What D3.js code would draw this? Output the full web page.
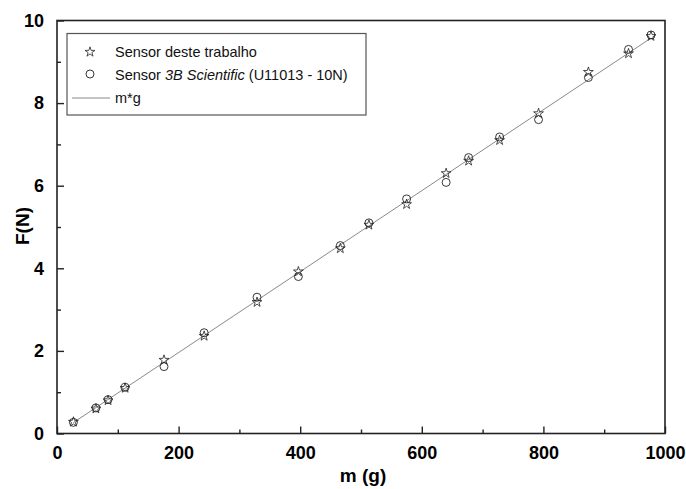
<!DOCTYPE html>
<html><head><meta charset="utf-8">
<script src="https://cdn.jsdelivr.net/npm/d3@7"></script>
<style>body{margin:0;background:#fff}svg{display:block}text{font-family:"Liberation Sans",Arial,sans-serif}</style>
</head><body><svg id="c" width="686" height="489"></svg>
<script>
const massG = [27, 64, 84, 112, 176, 242, 329, 397, 466, 513, 575, 640, 677, 728, 792, 874, 940, 977];
const sensorThis = [0.28, 0.60, 0.80, 1.10, 1.78, 2.36, 3.18, 3.92, 4.48, 5.05, 5.55, 6.30, 6.60, 7.10, 7.75, 8.75, 9.20, 9.62];
const sensor3B = [0.27, 0.62, 0.82, 1.12, 1.62, 2.44, 3.30, 3.80, 4.55, 5.10, 5.68, 6.08, 6.68, 7.18, 7.60, 8.62, 9.30, 9.65];
const lineMass = [27, 977];
const g = 9.8;
const xTicks = [0, 200, 400, 600, 800, 1000];
const xMinor = [100, 300, 500, 700, 900];
const yTicks = [0, 2, 4, 6, 8, 10];
const yMinor = [1, 3, 5, 7, 9];
const legendLabels = ["Sensor deste trabalho", "Sensor 3B Scientific (U11013 - 10N)", "m*g"];

const svg = d3.select("#c");
const L = 57, R = 665, T = 20.5, B = 433.5;
const x = d3.scaleLinear().domain([0, 1000]).range([L, R]);
const y = d3.scaleLinear().domain([0, 10]).range([B, T]);

svg.append("path")
  .datum(lineMass)
  .attr("d", d3.line().x(d => x(d)).y(d => y(d * g / 1000)))
  .attr("stroke", "#8a8a8a").attr("stroke-width", 1).attr("fill", "none");

svg.append("g").selectAll("circle").data(massG).join("circle")
  .attr("cx", d => x(d)).attr("cy", (d, i) => y(sensor3B[i])).attr("r", 4)
  .attr("fill", "none").attr("stroke", "#222").attr("stroke-width", 0.9);

const star = d3.symbol().type(d3.symbolStar).size(30);
svg.append("g").selectAll("path").data(massG).join("path")
  .attr("transform", (d, i) => `translate(${x(d)},${y(sensorThis[i])})`)
  .attr("d", star).attr("fill", "none").attr("stroke", "#222").attr("stroke-width", 0.8);

svg.append("rect").attr("x", L).attr("y", T).attr("width", R - L).attr("height", B - T)
  .attr("fill", "none").attr("stroke", "#222").attr("stroke-width", 1.6);

const xAxis = d3.axisBottom(x).tickValues(xTicks).tickSize(-7).tickPadding(13).tickFormat(d3.format("d"));
const gx = svg.append("g").attr("transform", `translate(0,${B})`).call(xAxis);
gx.select(".domain").remove();
gx.selectAll("line").attr("stroke", "#222").attr("stroke-width", 1.4);
gx.selectAll("text").attr("font-size", 18).attr("font-weight", "bold").attr("fill", "#000")
  .attr("font-family", "'Liberation Sans',Arial,sans-serif");
const gxm = svg.append("g").attr("transform", `translate(0,${B})`)
  .call(d3.axisBottom(x).tickValues(xMinor).tickSize(-4).tickFormat(""));
gxm.select(".domain").remove();
gxm.selectAll("line").attr("stroke", "#222").attr("stroke-width", 1.4);

const yAxis = d3.axisLeft(y).tickValues(yTicks).tickSize(-7).tickPadding(13).tickFormat(d3.format("d"));
const gy = svg.append("g").attr("transform", `translate(${L},0)`).call(yAxis);
gy.select(".domain").remove();
gy.selectAll("line").attr("stroke", "#222").attr("stroke-width", 1.4);
gy.selectAll("text").attr("font-size", 18).attr("font-weight", "bold").attr("fill", "#000")
  .attr("font-family", "'Liberation Sans',Arial,sans-serif");
const gym = svg.append("g").attr("transform", `translate(${L},0)`)
  .call(d3.axisLeft(y).tickValues(yMinor).tickSize(-4).tickFormat(""));
gym.select(".domain").remove();
gym.selectAll("line").attr("stroke", "#222").attr("stroke-width", 1.4);

svg.append("text").attr("x", 363).attr("y", 482).attr("text-anchor", "middle")
  .attr("font-size", 19).attr("font-weight", "bold").attr("fill", "#000").text("m (g)");
svg.append("text").attr("transform", "translate(29,226) rotate(-90)").attr("text-anchor", "middle")
  .attr("font-size", 19).attr("font-weight", "bold").attr("fill", "#000").text("F(N)");

const lg = svg.append("g");
lg.append("rect").attr("x", 67).attr("y", 33.5).attr("width", 299).attr("height", 81.5)
  .attr("fill", "#fff").attr("stroke", "#555").attr("stroke-width", 1.2);
lg.append("path").attr("transform", "translate(90,52)").attr("d", star)
  .attr("fill", "none").attr("stroke", "#222").attr("stroke-width", 0.8);
lg.append("circle").attr("cx", 90).attr("cy", 74).attr("r", 4)
  .attr("fill", "none").attr("stroke", "#222").attr("stroke-width", 0.9);
lg.append("line").attr("x1", 72).attr("x2", 110).attr("y1", 98).attr("y2", 98)
  .attr("stroke", "#8a8a8a").attr("stroke-width", 1);
const fs = 14.5;
lg.append("text").attr("x", 115).attr("y", 57).attr("font-size", fs).attr("fill", "#111").text(legendLabels[0]);
const t2 = lg.append("text").attr("x", 115).attr("y", 79.5).attr("font-size", fs).attr("fill", "#111");
t2.append("tspan").text("Sensor ");
t2.append("tspan").attr("font-style", "italic").text("3B Scientific");
t2.append("tspan").text(" (U11013 - 10N)");
lg.append("text").attr("x", 115).attr("y", 103).attr("font-size", fs).attr("fill", "#111").text(legendLabels[2]);
</script></body></html>
